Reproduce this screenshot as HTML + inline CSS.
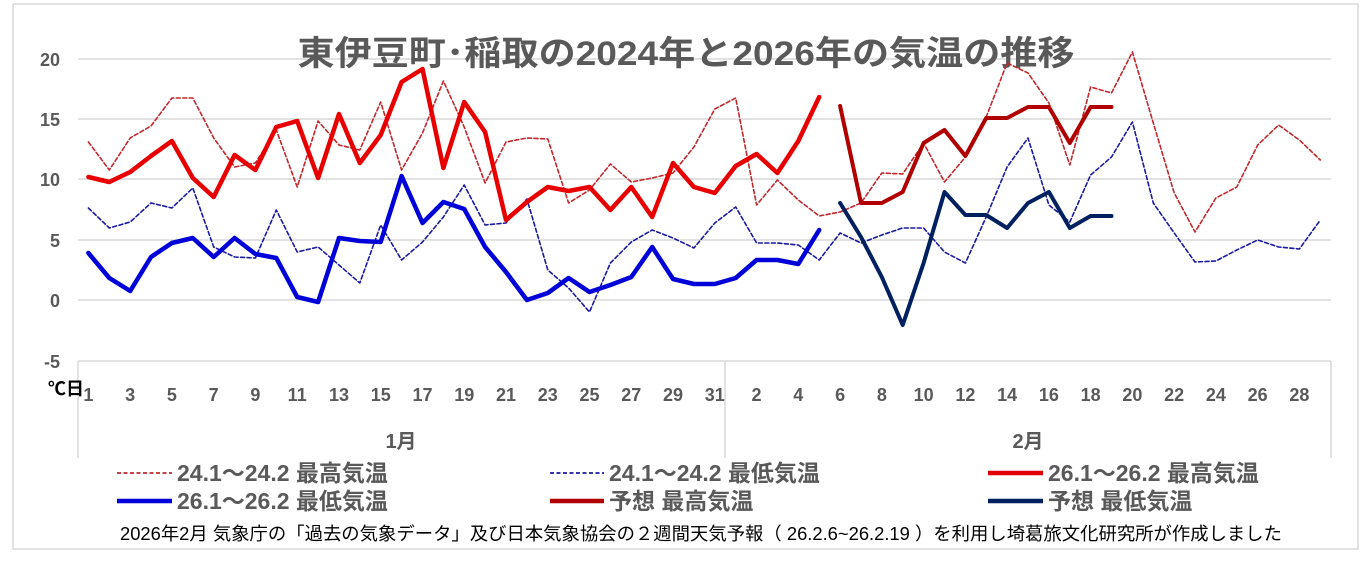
<!DOCTYPE html>
<html><head><meta charset="utf-8">
<style>
body{margin:0;background:#fff;width:1370px;height:557px;overflow:hidden;font-family:"Liberation Sans","Noto Sans CJK JP",sans-serif;}
</style></head>
<body>
<svg id="s" width="1370" height="557" xmlns="http://www.w3.org/2000/svg" font-family="Liberation Sans, Noto Sans CJK JP, sans-serif">
<rect x="13" y="4" width="1345" height="545" fill="#fff" stroke="#d9d9d9" stroke-width="1.5"/>
<g stroke="#d9d9d9" stroke-width="1.5">
<line x1="78" y1="59" x2="1331" y2="59"/>
<line x1="78" y1="119" x2="1331" y2="119"/>
<line x1="78" y1="179" x2="1331" y2="179"/>
<line x1="78" y1="240" x2="1331" y2="240"/>
<line x1="78" y1="300" x2="1331" y2="300"/>
<line x1="78" y1="361" x2="1331" y2="361"/>
<line x1="78" y1="361" x2="78" y2="458"/>
<line x1="725" y1="361" x2="725" y2="458"/>
<line x1="1331" y1="361" x2="1331" y2="458"/>
</g>
<text x="686" y="65" text-anchor="middle" font-size="34" font-weight="bold" fill="#595959" textLength="777" lengthAdjust="spacingAndGlyphs">東伊豆町･稲取の2024年と2026年の気温の推移</text>
<g font-size="18" font-weight="bold" fill="#595959" text-anchor="end">
<text x="60" y="66">20</text><text x="60" y="126">15</text><text x="60" y="186">10</text>
<text x="60" y="247">5</text><text x="60" y="307">0</text><text x="60" y="368">-5</text>
</g>
<text x="48" y="395" font-size="18" font-weight="bold" fill="#000">℃日</text>
<g id="ticks" font-size="18" font-weight="bold" fill="#595959" text-anchor="middle"></g>
<g font-size="20" font-weight="bold" fill="#595959" text-anchor="middle">
<text x="401" y="448">1月</text><text x="1028" y="448">2月</text>
</g>
<g id="series"></g>
<g font-size="23" font-weight="bold" fill="#595959">
<line x1="117" y1="473" x2="172" y2="473" stroke="#C0282D" stroke-width="1.8" stroke-dasharray="4,2.5"/>
<text x="177" y="481">24.1～24.2 最高気温</text>
<line x1="550" y1="473" x2="604" y2="473" stroke="#1a1aa0" stroke-width="1.8" stroke-dasharray="4,2.5"/>
<text x="609" y="481">24.1～24.2 最低気温</text>
<line x1="988" y1="473" x2="1043" y2="473" stroke="#E00000" stroke-width="4.5"/>
<text x="1048" y="481">26.1～26.2 最高気温</text>
<line x1="117" y1="501" x2="172" y2="501" stroke="#0000D8" stroke-width="4.5"/>
<text x="177" y="509">26.1～26.2 最低気温</text>
<line x1="550" y1="501" x2="604" y2="501" stroke="#B00000" stroke-width="4.5"/>
<text x="609" y="509">予想 最高気温</text>
<line x1="988" y1="501" x2="1043" y2="501" stroke="#002060" stroke-width="4.5"/>
<text x="1048" y="509">予想 最低気温</text>
</g>
<text x="701" y="540" text-anchor="middle" font-size="18" fill="#000" textLength="1162" lengthAdjust="spacingAndGlyphs">2026年2月 気象庁の「過去の気象データ」及び日本気象協会の２週間天気予報（ 26.2.6~26.2.19 ）を利用し埼葛旅文化研究所が作成しました</text>
</svg>
<script>
var X=function(i){return 88.4+i*20.88;};
var ns="http://www.w3.org/2000/svg";
var tk=document.getElementById("ticks");
for(var i=0;i<60;i++){
  var d=i<31?i+1:i-30;
  if(d%2==1&&i<31||d%2==0&&i>=31){
    var t=document.createElementNS(ns,"text");t.setAttribute("x",X(i));t.setAttribute("y",401);t.textContent=d;tk.appendChild(t);
  }
}
var s24max=[142,170,138,126,98,98,138,167,163,130,187,121,145,150,102,170,133,81,127,183,142,138,139,203,190,164,182,178,173,147,109,98,205,180,200,216,212,203,173,174,143,182,157,117,63,73,103,165,87,93,52,123,193,232,198,187,145,125,140,160];
var s24min=[208,228,222,203,208,188,247,257,258,210,252,247,265,283,225,260,242,217,185,225,223,199,270,288,312,263,242,230,238,248,223,207,243,243,245,260,233,243,235,228,228,252,263,217,167,138,205,222,175,157,122,203,233,262,261,250,240,247,249,220];
var s26max=[177,182,172,156,141,178,197,155,170,127,121,178,114,163,135,82,69,168,102,132,220,202,187,191,187,210,187,217,163,187,193,166,154,173,141,97];
var s26min=[253,278,291,257,243,238,257,238,254,258,297,302,238,241,242,176,223,202,209,247,272,300,293,278,292,285,277,247,279,284,284,278,260,260,264,230];
var fmax=[106,203,203,192,143,130,156,118,118,107,107,143,107,107];
var fmin=[203,237,277,325,263,192,215,215,228,203,192,228,216,216];
var g=document.getElementById("series");
function pl(a,off,col,w,dash){
  var p=a.map(function(y,k){return X(k+off).toFixed(1)+","+y;}).join(" ");
  var e=document.createElementNS(ns,"polyline");
  e.setAttribute("points",p);e.setAttribute("fill","none");e.setAttribute("stroke",col);
  e.setAttribute("stroke-width",w);e.setAttribute("stroke-linejoin","round");e.setAttribute("stroke-linecap","round");
  if(dash)e.setAttribute("stroke-dasharray",dash);
  g.appendChild(e);
}
pl(s24max,0,"#C0282D",1.6,"4,2.5");
pl(s24min,0,"#1a1aa0",1.6,"4,2.5");
pl(s26max,0,"#E80000",4.5);
pl(s26min,0,"#0000D8",4.5);
pl(fmax,36,"#B00000",4);
pl(fmin,36,"#002060",4);
</script>
</body></html>
